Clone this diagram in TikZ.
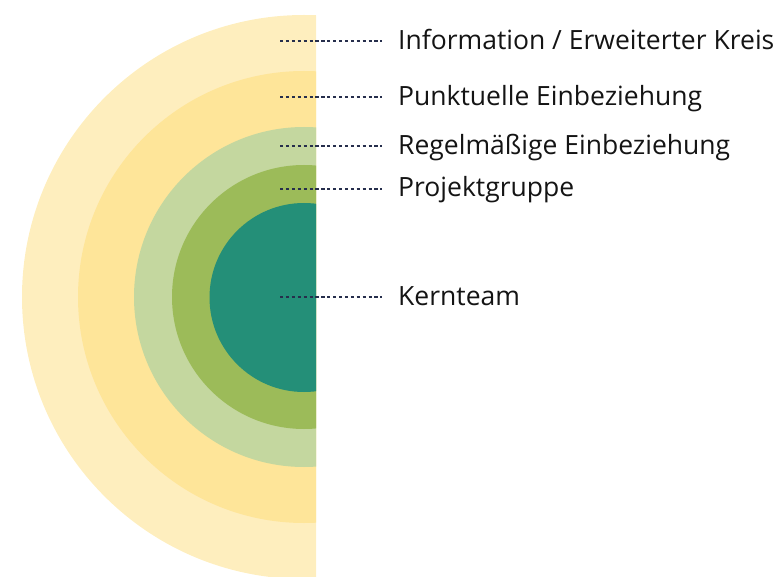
\documentclass[tikz,border=0pt]{standalone}
\usepackage{fontspec}
\setmainfont{Open Sans}
\definecolor{ring1}{HTML}{FEEEBE}
\definecolor{ring2}{HTML}{FEE599}
\definecolor{ring3}{HTML}{C4D79F}
\definecolor{ring4}{HTML}{9CBB59}
\definecolor{ring5}{HTML}{248F78}
\definecolor{dotc}{HTML}{262E4C}
\begin{document}
\begin{tikzpicture}[x=1pt,y=1pt,
  lbl/.style={anchor=base west,inner sep=0pt,font=\fontsize{26.5}{31}\selectfont,text=black!92},
  dotline/.style={draw=dotc,line width=2.8pt,dash pattern=on 3.2pt off 2.7pt}]
\useasboundingbox (0,0) rectangle (776,-577);
\begin{scope}
\clip (0,0) rectangle (316,-577);
\fill[ring1] (304,-297) circle[radius=282];
\fill[ring2] (304,-297) circle[radius=226];
\fill[ring3] (304,-297) circle[radius=170];
\fill[ring4] (304,-297) circle[radius=132];
\fill[ring5] (304,-297.5) circle[radius=94.5];
\end{scope}
\node[lbl] (t1) at (398,-49.5) {Information / Erweiterter Kreis};
\node[lbl] (t2) at (398,-105.5) {Punktuelle Einbeziehung};
\node[lbl] (t3) at (398,-154.5) {Regelmäßige Einbeziehung};
\node[lbl] (t4) at (398,-197) {Projektgruppe};
\node[lbl] (t5) at (398,-305.5) {Kernteam};
\coordinate (s1) at (280,-41);
\coordinate (s2) at (280,-97);
\coordinate (s3) at (280,-146);
\coordinate (s4) at (280,-189);
\coordinate (s5) at (280,-297);
\foreach \i in {1,...,5}{
  \draw[dotline] (s\i) -- ([xshift=-16pt]t\i.west |- s\i);
}
\end{tikzpicture}
\end{document}
